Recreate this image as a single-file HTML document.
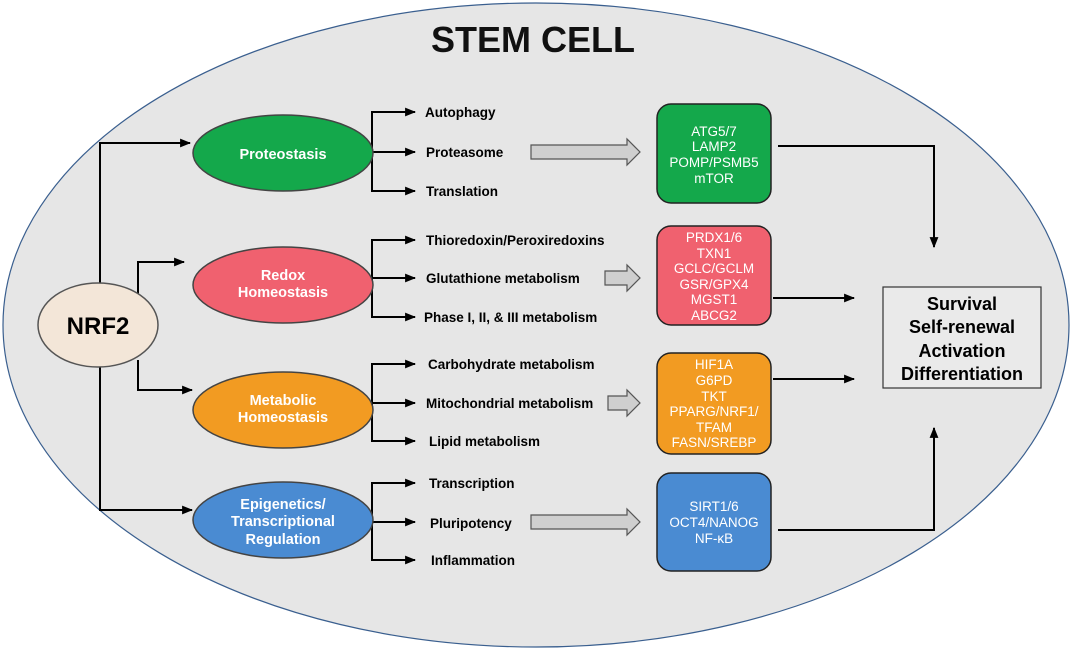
<!DOCTYPE html>
<html><head><meta charset="utf-8"><style>
html,body{margin:0;padding:0;background:#fff;width:1072px;height:651px;overflow:hidden}
text{font-family:"Liberation Sans",Arial,sans-serif}
</style></head><body>
<svg width="1072" height="651" viewBox="0 0 1072 651" xmlns="http://www.w3.org/2000/svg">
<defs>
<marker id="a" viewBox="0 0 10 10" refX="9" refY="5" markerWidth="5.5" markerHeight="5.5" orient="auto"><path d="M0,1 L10,5 L0,9 z" fill="#000"/></marker>
</defs>
<ellipse cx="536" cy="325" rx="533" ry="322" fill="#e6e6e6" stroke="#3a5f8f" stroke-width="1.2"/>
<text x="533" y="52" text-anchor="middle" font-size="36" font-weight="bold" fill="#111">STEM CELL</text>

<g stroke="#000" stroke-width="2" fill="none">
<path d="M100,285 V143 H190" marker-end="url(#a)"/>
<path d="M100,366 V510 H192" marker-end="url(#a)"/>
<path d="M138,295 V262 H184" marker-end="url(#a)"/>
<path d="M138,360 V390 H192" marker-end="url(#a)"/>
<path d="M372,152 H415" marker-end="url(#a)"/><path d="M415,112 H372 V191 H415" marker-end="url(#a)"/><path d="M372,112 H415" marker-end="url(#a)"/>
<path d="M372,278 H415" marker-end="url(#a)"/><path d="M415,240 H372 V317 H415" marker-end="url(#a)"/><path d="M372,240 H415" marker-end="url(#a)"/>
<path d="M372,403 H415" marker-end="url(#a)"/><path d="M415,364 H372 V441 H415" marker-end="url(#a)"/><path d="M372,364 H415" marker-end="url(#a)"/>
<path d="M372,522 H415" marker-end="url(#a)"/><path d="M415,483 H372 V560 H415" marker-end="url(#a)"/><path d="M372,483 H415" marker-end="url(#a)"/>
<path d="M778,146 H934 V247" marker-end="url(#a)"/>
<path d="M773,298 H854" marker-end="url(#a)"/>
<path d="M773,379 H854" marker-end="url(#a)"/>
<path d="M778,530 H934 V428" marker-end="url(#a)"/>
</g>

<ellipse cx="98" cy="325" rx="60" ry="42" fill="#f3e6d8" stroke="#555" stroke-width="1.5"/>
<text x="98" y="334" text-anchor="middle" font-size="24" font-weight="bold">NRF2</text>

<g stroke="#444" stroke-width="1.5">
<ellipse cx="283" cy="153" rx="90" ry="38" fill="#14a84b"/>
<ellipse cx="283" cy="285" rx="90" ry="38" fill="#f0616f"/>
<ellipse cx="283" cy="410" rx="90" ry="38" fill="#f29b22"/>
<ellipse cx="283" cy="520" rx="90" ry="38" fill="#4a8bd2"/>
</g>
<g fill="#fff" font-size="14.5" font-weight="bold" text-anchor="middle">
<text x="283" y="159">Proteostasis</text>
<text x="283" y="280">Redox</text><text x="283" y="297">Homeostasis</text>
<text x="283" y="405">Metabolic</text><text x="283" y="422">Homeostasis</text>
<text x="283" y="509">Epigenetics/</text><text x="283" y="526">Transcriptional</text><text x="283" y="544">Regulation</text>
</g>

<g font-size="13.5" font-weight="bold" fill="#000">
<text x="425" y="117">Autophagy</text>
<text x="426" y="157">Proteasome</text>
<text x="426" y="196">Translation</text>
<text x="426" y="245">Thioredoxin/Peroxiredoxins</text>
<text x="426" y="283">Glutathione metabolism</text>
<text x="424" y="322">Phase I, II, &amp; III metabolism</text>
<text x="428" y="369">Carbohydrate metabolism</text>
<text x="426" y="408">Mitochondrial metabolism</text>
<text x="429" y="446">Lipid metabolism</text>
<text x="429" y="488">Transcription</text>
<text x="430" y="528">Pluripotency</text>
<text x="431" y="565">Inflammation</text>
</g>

<g fill="#cfcfcf" stroke="#555" stroke-width="1.2">
<path d="M531,145 H627 V139 L640,152 L627,165 V159 H531 z"/>
<path d="M605,271 H627 V265 L640,278 L627,291 V285 H605 z"/>
<path d="M608,396 H627 V390 L640,403 L627,416 V410 H608 z"/>
<path d="M531,515 H627 V509 L640,522 L627,535 V529 H531 z"/>
</g>

<g stroke="#222" stroke-width="1.5">
<rect x="657" y="104" width="114" height="99" rx="14" fill="#14a84b"/>
<rect x="657" y="226" width="114" height="99" rx="14" fill="#f0616f"/>
<rect x="657" y="353" width="114" height="101" rx="14" fill="#f29b22"/>
<rect x="657" y="473" width="114" height="98" rx="14" fill="#4a8bd2"/>
</g>
<g fill="#fff" font-size="13.5" text-anchor="middle">
<text x="714" y="136">ATG5/7</text><text x="714" y="151">LAMP2</text><text x="714" y="167">POMP/PSMB5</text><text x="714" y="183">mTOR</text>
<text x="714" y="242">PRDX1/6</text><text x="714" y="258">TXN1</text><text x="714" y="273">GCLC/GCLM</text><text x="714" y="289">GSR/GPX4</text><text x="714" y="304">MGST1</text><text x="714" y="320">ABCG2</text>
<text x="714" y="369">HIF1A</text><text x="714" y="385">G6PD</text><text x="714" y="401">TKT</text><text x="714" y="416">PPARG/NRF1/</text><text x="714" y="432">TFAM</text><text x="714" y="447">FASN/SREBP</text>
<text x="714" y="511">SIRT1/6</text><text x="714" y="527">OCT4/NANOG</text><text x="714" y="543">NF-κB</text>
</g>

<rect x="883" y="287" width="158" height="101" fill="#eaeaea" stroke="#333" stroke-width="1.2"/>
<g font-size="18" font-weight="bold" text-anchor="middle">
<text x="962" y="310">Survival</text><text x="962" y="333">Self-renewal</text><text x="962" y="357">Activation</text><text x="962" y="380">Differentiation</text>
</g>
</svg>
</body></html>
